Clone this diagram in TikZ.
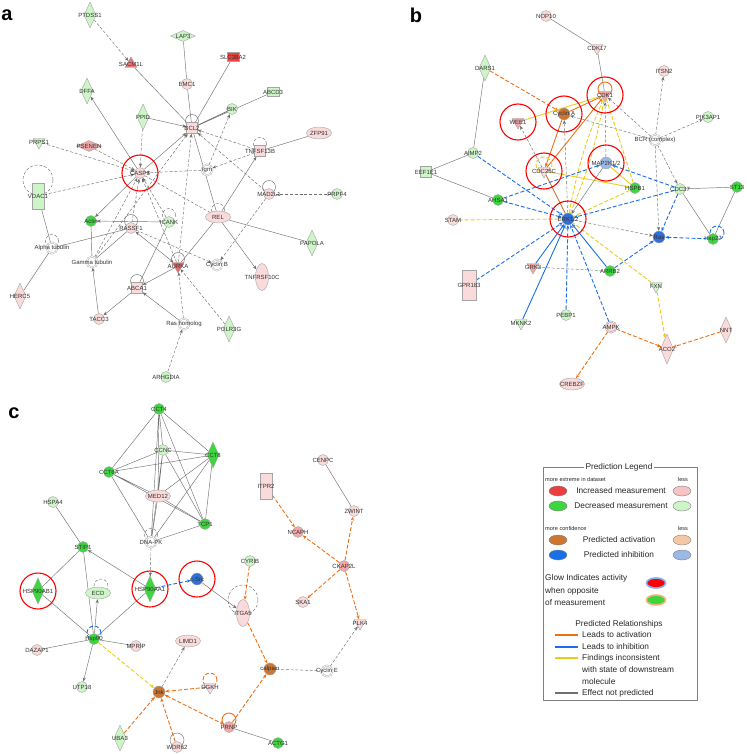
\documentclass[tikz,border=0pt]{standalone}
\usepackage{fontspec}
\setmainfont{Liberation Sans}
\usetikzlibrary{shapes.geometric,arrows.meta,positioning,backgrounds}
\definecolor{pinkL}{RGB}{250,218,218}
\definecolor{pinkM}{RGB}{242,168,168}
\definecolor{redS}{RGB}{236,62,62}
\definecolor{greenL}{RGB}{206,245,200}
\definecolor{greenS}{RGB}{62,214,62}
\definecolor{orangeN}{RGB}{205,118,50}
\definecolor{orangeL}{RGB}{245,200,165}
\definecolor{blueN}{RGB}{48,112,215}
\definecolor{blueL}{RGB}{155,185,230}
\definecolor{nodeline}{RGB}{165,165,165}
\definecolor{edgegray}{RGB}{112,112,112}
\definecolor{labtext}{RGB}{50,50,50}
\definecolor{actorange}{RGB}{238,112,20}
\definecolor{inhblue}{RGB}{25,110,235}
\definecolor{incyellow}{RGB}{236,204,25}

\begin{document}
\begin{tikzpicture}[x=1pt, y=-1pt,
  base/.style={inner sep=0pt, draw=nodeline, line width=0.4pt},
  glab/.style={font=\fontsize{6}{6}\selectfont, text=labtext, inner sep=0pt},
  gene/.style={label={[glab]center:#1}},
  pc/.style={base, circle, fill=pinkL, minimum size=11pt},
  mc/.style={base, circle, fill=pinkM, minimum size=11pt},
  gc/.style={base, circle, fill=greenL, minimum size=11pt},
  Gc/.style={base, circle, fill=greenS, minimum size=11pt},
  oc/.style={base, circle, fill=orangeN, minimum size=12pt},
  bc/.style={base, circle, fill=blueN, minimum size=12pt},
  lbc/.style={base, circle, fill=blueL, minimum size=12pt},
  wc/.style={base, circle, fill=white, minimum size=11pt, double=white, double distance=0.8pt},
  pwc/.style={wc, double=pinkL, fill=pinkL},
  dm/.style={base, diamond, minimum width=12pt, minimum height=26pt},
  pdm/.style={dm, fill=pinkL},
  gdm/.style={dm, fill=greenL},
  Gdm/.style={dm, fill=greenS},
  wdm/.style={base, diamond, minimum width=25pt, minimum height=11pt},
  tri/.style={base, regular polygon, regular polygon sides=3, shape border rotate=180, minimum size=14pt},
  ptri/.style={tri, fill=pinkL},
  mtri/.style={tri, fill=pinkM},
  gtri/.style={tri, fill=greenL},
  sq/.style={base, rectangle, minimum size=11pt},
  tall/.style={base, rectangle, minimum width=12pt, minimum height=26pt},
  ell/.style={base, ellipse, minimum width=25pt, minimum height=12pt},
  vell/.style={base, ellipse, minimum width=13pt, minimum height=27pt},
  trap/.style={base, rectangle, minimum width=12pt, minimum height=9pt},
  hl/.style={circle, draw=red, line width=1.1pt, minimum size=36pt, inner sep=0pt},
  lnk/.style={draw=edgegray, line width=0.45pt},
  lnkd/.style={lnk, dash pattern=on 3pt off 1.8pt},
  act/.style={draw=actorange, line width=0.9pt},
  actd/.style={act, dash pattern=on 4pt off 2pt},
  inh/.style={draw=inhblue, line width=0.9pt},
  inhd/.style={inh, dash pattern=on 4pt off 2pt},
  inc/.style={draw=incyellow, line width=0.9pt},
  incd/.style={inc, dash pattern=on 4pt off 2pt},
  tip/.style={-{Stealth[length=4pt,width=3.2pt]}},
  tips/.style={{Stealth[length=4pt,width=3.2pt]}-{Stealth[length=4pt,width=3.2pt]}},
  panel/.style={font=\fontsize{20}{20}\selectfont\bfseries, inner sep=0pt},
  lgtext/.style={font=\fontsize{8.3}{10}\selectfont, text=black!85, inner sep=0pt},
  lgsmall/.style={font=\fontsize{5.6}{7}\selectfont, text=black!85, inner sep=0pt},
  legell/.style={base, ellipse, minimum width=18pt, minimum height=10pt, draw=gray}]

\useasboundingbox (0,0) rectangle (746,754);

% ---------------- panel a ----------------
\node[panel] (pa) at (7,15) {a};

\node[gdm, gene=PTDSS1] (ptdss1) at (90,15) {};
\node[wdm, fill=greenL, gene=LAP3] (lap3) at (183,36) {};
\node[trap, fill=redS, gene=SLC38A2] (slc38a2) at (233,57) {};
\node[tri, shape border rotate=0, fill={rgb,255:red,240;green,118;blue,118}, gene=SACM1L] (sacm1l) at (131,64) {};
\node[pc, gene=EMC1] (emc1) at (187,84) {};
\node[gdm, gene=DFFA] (dffa) at (87,91) {};
\node[trap, fill=greenL, gene=ABCD3] (abcd3) at (273,92) {};
\node[gc, gene=BIK] (bik) at (232,109) {};
\node[gdm, gene=PPID] (ppid) at (143,117) {};
\node[sq, fill=pinkL, gene=BCL2] (bcl2) at (192,128) {};
\node[ell, fill=pinkL, gene=ZFP91] (zfp91) at (319,133) {};
\node[gtri, gene=PRPS1] (prps1) at (39,142) {};
\node[wdm, fill=pinkM, gene=PSENEN] (psenen) at (89,146) {};
\node[sq, fill=pinkL, gene=TNFSF13B] (tnfsf13b) at (260,151) {};
\node[pc, gene=CASP3] (casp3) at (140,173) {};
\node[wc, gene=Igm] (igm) at (207,170) {};
\node[tall, fill=greenL, gene=VDAC1] (vdac1) at (38,196) {};
\node[pc, gene=MAD2L1] (mad2l1) at (269,194) {};
\node[gc, gene=PRPF4] (prpf4) at (337,194) {};
\node[ell, fill=pinkL, gene=REL] (rel) at (218,217) {};
\node[Gc, gene=Actin] (actin) at (91,221) {};
\node[gc, gene=ICANK] (icank) at (169,222) {};
\node[pc, gene=RASSF1] (rassf1) at (131,228) {};
\node[gdm, gene=PAPOLA] (papola) at (312,243) {};
\node[wc, gene=Alpha tubulin] (alphatub) at (52,248) {};
\node[wc, gene=Gamma tubulin] (gammatub) at (92,262) {};
\node[tri, fill=redS!80, gene=AURKA] (aurka) at (178,266) {};
\node[wc, gene=Cyclin B] (cyclinb) at (217,265) {};
\node[vell, fill=pinkL, gene=TNFRSF10C] (tnfrsf10c) at (262,277) {};
\node[pdm, gene=HERC5] (herc5) at (20,296) {};
\node[sq, fill=pinkL, gene=ABCA1] (abca1) at (137,288) {};
\node[pc, gene=TACC3] (tacc3) at (99,319) {};
\node[wc, gene=Ras homolog] (rashom) at (184,324) {};
\node[gdm, gene=POLR3G] (polr3g) at (229,329) {};
\node[gc, gene=ARHGDIA] (arhgdia) at (166,377) {};

\node[hl] (hlcasp3) at (casp3) {};

\begin{scope}[on background layer]
\draw[lnkd, tip] (ptdss1) -- (sacm1l);
\draw[lnk] (lap3) -- (emc1);
\draw[lnk] (emc1) -- (bcl2);
\draw[lnk] (slc38a2) -- (bcl2);
\draw[lnk] (sacm1l) -- (bcl2);
\draw[lnk] (abcd3) -- (bcl2);
\draw[lnk, line width=0.8pt] (bik) -- (bcl2);
\draw[lnk, tip] (ppid) -- (bcl2);
\draw[lnkd, tip] (ppid) -- (casp3);
\draw[lnk, tip] (casp3) -- (dffa);
\draw[lnk] (zfp91) -- (tnfsf13b);
\draw[lnkd, tip] (tnfsf13b) -- (bcl2);
\draw[lnkd, tip] (prps1) -- (casp3);
\draw[lnkd, tip] (psenen) -- (casp3);
\draw[lnk, tip] (casp3) -- (bcl2);
\draw[lnkd, tip] (igm) -- (casp3);
\draw[lnkd, tip] (igm) -- (bik);
\draw[lnkd, tip] (tnfsf13b) -- (igm);
\draw[lnkd, tip] (vdac1) -- (casp3);
\draw[lnk] (vdac1) -- (alphatub);
\draw[lnk] (herc5) -- (alphatub);
\draw[lnk] (alphatub) -- (rassf1);
\draw[lnk, tip] (casp3) -- (actin);
\draw[lnk, tip] (icank) -- (actin);
\draw[lnk] (actin) -- (gammatub);
\draw[lnkd, tip] (rassf1) -- (casp3);
\draw[lnk] (rassf1) -- (gammatub);
\draw[lnk, tips] (rassf1) -- (aurka);
\draw[lnkd, tip] (rassf1) -- (cyclinb);
\draw[lnkd, tip] (gammatub) -- (casp3);
\draw[lnkd, tip] (gammatub) -- (bcl2);
\draw[lnk, tip] (tacc3) -- (gammatub);
\draw[lnk, tip] (abca1) -- (tacc3);
\draw[lnk] (icank) -- (abca1);
\draw[lnkd, tip] (icank) -- (casp3);
\draw[lnk, tip] (rel) -- (tnfsf13b);
\draw[lnk] (rel) -- (bcl2);
\draw[lnk, tip] (rel) -- (tnfrsf10c);
\draw[lnk] (rel) -- (papola);
\draw[lnk] (rel) -- (aurka);
\draw[lnkd] (casp3) -- (rel);
\draw[lnkd, tip] (mad2l1) -- (cyclinb);
\draw[lnkd] (prpf4) -- (mad2l1);
\draw[lnkd, tip] (mad2l1) -- (bcl2);
\draw[lnkd, tip] (aurka) -- (bcl2);
\draw[lnk, tip] (aurka) -- (abca1);
\draw[lnkd, tip] (aurka) -- (casp3);
\draw[lnk, tip] (rashom) -- (abca1);
\draw[lnkd, tip] (rashom) -- (aurka);
\draw[lnkd, tip] (polr3g) -- (aurka);
\draw[lnkd, tip] (arhgdia) -- (rashom);
% self loops
\draw[lnk] ([yshift=7pt]bcl2.center) circle (6.5pt);
\draw[lnkd] ([yshift=7pt]tnfsf13b.center) circle (6.5pt);
\draw[lnkd] ([yshift=16pt]vdac1.center) circle (15pt);
\draw[lnkd] ([yshift=7pt]alphatub.center) circle (6.5pt);
\draw[lnk] ([yshift=7pt]rassf1.center) circle (6.5pt);
\draw[lnkd] ([yshift=7pt]icank.center) circle (6.5pt);
\draw[lnkd] ([yshift=7pt]rel.center) circle (6.5pt);
\draw[lnk] ([yshift=7pt]mad2l1.center) circle (6.5pt);
\draw[lnk] ([yshift=7pt]aurka.center) circle (6.5pt);
\draw[lnk] ([yshift=7pt]abca1.center) circle (6.5pt);
\end{scope}

% ---------------- panel b ----------------
\node[panel] (pb) at (416,15) {b};

\node[pc, gene=NOP10] (nop10) at (546,16) {};
\node[ptri, gene=CDK17] (cdk17) at (597,48) {};
\node[gdm, gene=DARS1] (dars1) at (485,68) {};
\node[pc, gene=ITSN2] (itsn2) at (664,71) {};
\node[mtri, gene=CDK1] (cdk1) at (605,95) {};
\node[oc, gene=Cyclin A] (cyclina) at (564,114) {};
\node[mtri, gene=WEE1] (wee1) at (518,122) {};
\node[gc, gene=PIK3AP1] (pik3ap1) at (708,117) {};
\node[wc, gene=BCR (complex)] (bcr) at (655,140) {};
\node[gc, gene=AIMP2] (aimp2) at (473,153) {};
\node[lbc, gene=MAP2K1/2] (map2k) at (606,163) {};
\node[ptri, gene=CDC25C] (cdc25c) at (544,171) {};
\node[sq, fill=greenL, gene=EEF1E1] (eef1e1) at (426,172) {};
\node[Gc, gene=HSPB1] (hspb1) at (635,188) {};
\node[gc, gene=CDC37] (cdc37) at (680,189) {};
\node[Gc, gene=ST13] (st13) at (737,187) {};
\node[Gc, gene=AHSA1] (ahsa1) at (498,200) {};
\node[pc, gene=STAM] (stam) at (453,220) {};
\node[bc, gene=ERK1/2] (erk) at (568,219) {};
\node[bc, gene=Ras] (ras) at (659,237) {};
\node[Gc, gene=Hsp27] (hsp27) at (713,239) {};
\node[mtri, gene=GRK3] (grk3) at (533,267) {};
\node[Gc, gene=ARRB2] (arrb2) at (610,271) {};
\node[tall, fill=pinkL, minimum width=14pt, minimum height=30pt, gene=GPR183] (gpr183) at (469,285) {};
\node[gtri, gene=FXN] (fxn) at (656,286) {};
\node[gc, gene=PEBP1] (pebp1) at (566,315) {};
\node[gtri, gene=MKNK2] (mknk2) at (521,323) {};
\node[pwc, gene=AMPK] (ampk) at (611,327) {};
\node[pdm, gene=NNT] (nnt) at (726,330) {};
\node[pdm, minimum height=30pt, minimum width=13pt, gene=ACO2] (aco2) at (667,349) {};
\node[ell, fill=pinkL, gene=CREBZF] (crebzf) at (572,384) {};

\node[hl] (hlcdk1) at (cdk1) {};
\node[hl] (hlcyclina) at (cyclina) {};
\node[hl] (hlwee1) at (wee1) {};
\node[hl] (hlmap2k) at (map2k) {};
\node[hl] (hlcdc25c) at (cdc25c) {};
\node[hl] (hlerk) at (erk) {};

\begin{scope}[on background layer]
\draw[lnk] (nop10) -- (cdk17);
\draw[lnk] (cdk17) -- (cdk1);
\draw[actd, tip] (dars1) -- (cyclina);
\draw[lnk] (dars1) -- (aimp2);
\draw[lnk] (aimp2) -- (eef1e1);
\draw[lnk] (eef1e1) -- (ahsa1);
\draw[inhd, tip] (aimp2) -- (erk);
\draw[act, tip] (cyclina) -- (cdk1);
\draw[inc] (wee1) -- (cdk1);
\draw[act, tip] (cyclina) -- (cdc25c);
\draw[act, tip] (cdc25c) -- (cdk1);
\draw[lnkd, tip] (cdc25c) -- (wee1);
\draw[act, draw=orangeN] (cdc25c) -- (erk);
\draw[lnkd, tip] (bcr) -- (cdk1);
\draw[lnkd, tip] (bcr) -- (cyclina);
\draw[lnkd, tip] (bcr) -- (itsn2);
\draw[lnkd, tip] (bcr) -- (pik3ap1);
\draw[lnkd, tip] (bcr) -- (cdc37);
\draw[lnkd, tip] (bcr) -- (ras);
\draw[lnkd, tip] (map2k) -- (cdk1);
\draw[lnkd, tip] (erk) -- (cyclina);
\draw[incd] (erk) to[bend left=6] (cdk1);
\draw[incd] (erk) to[bend right=6] (cdk1);
\draw[inc] (hspb1) -- (map2k);
\draw[inc] (cdc25c) -- (hspb1);
\draw[incd] (hspb1) -- (erk);
\draw[incd] (hspb1) -- (cdk1);
\draw[inhd, tip] (ahsa1) -- (map2k);
\draw[inhd, tip] (cdc37) -- (map2k);
\draw[inhd, tip] (cdc37) -- (erk);
\draw[inhd, tip] (cdc37) -- (ras);
\draw[lnk] (cdc37) -- (st13);
\draw[lnk] (cdc37) -- (hsp27);
\draw[lnk] (st13) -- (hsp27);
\draw[inhd, tip] (hsp27) -- (ras);
\draw[lnk, tip] (map2k) -- (erk);
\draw[inhd, tip] (ahsa1) -- (erk);
\draw[incd] (stam) -- (erk);
\draw[lnkd, tip] (erk) -- (ras);
\draw[inhd, tip] (gpr183) -- (erk);
\draw[lnkd] (grk3) -- (arrb2);
\draw[inh, tip] (grk3) -- (erk);
\draw[inh, tip] (arrb2) -- (erk);
\draw[inhd, tip] (arrb2) -- (ras);
\draw[inh, tip] (mknk2) -- (erk);
\draw[inhd, tip] (pebp1) -- (erk);
\draw[inhd, tip] (ampk) -- (erk);
\draw[incd] (fxn) -- (erk);
\draw[incd, tip] (fxn) -- (aco2);
\draw[actd, tip] (ampk) -- (aco2);
\draw[actd, tip] (nnt) -- (aco2);
\draw[actd, tip] (ampk) -- (crebzf);
% self loops
\draw[act] ([yshift=6pt]cdk1.center) circle (7pt);
\draw[incd] ([yshift=6pt]cdc25c.center) circle (8pt);
\draw[inhd] ([yshift=6pt,xshift=4pt]hsp27.center) circle (7pt);
\end{scope}

% ---------------- panel c ----------------
\node[panel] (pc) at (14,413) {c};

\node[Gc, gene=CCT4] (cct4) at (159,409) {};
\node[gc, gene=CCNC] (ccnc) at (163,450) {};
\node[Gdm, gene=CCT8] (cct8) at (213,455) {};
\node[Gc, gene=CCT6A] (cct6a) at (109,472) {};
\node[ell, fill=pinkL, gene=MED12] (med12) at (158,496) {};
\node[gc, gene=HSPA4] (hspa4) at (53,502) {};
\node[Gc, gene=TCP1] (tcp1) at (205,524) {};
\node[wc, gene=DNA-PK] (dnapk) at (151,542) {};
\node[Gc, gene=STIP1] (stip1) at (83,547) {};
\node[Gdm, gene=HSP90AB1] (hsp90ab1) at (38,591) {};
\node[ell, fill=greenL, gene=ECD] (ecd) at (98,593) {};
\node[Gdm, gene=HSP90AA1] (hsp90aa1) at (150,589) {};
\node[bc, gene=c-Src] (csrc) at (197,579) {};
\node[gc, gene=CYRIB] (cyrib) at (250,561) {};
\node[vell, fill=pinkL, gene=ITGA5] (itga5) at (243,613) {};
\node[Gc, gene=Hsp90] (hsp90) at (94,639) {};
\node[pc, gene=DAZAP1] (dazap1) at (37,650) {};
\node[pc, gene=MPRIP] (mprip) at (136,646) {};
\node[ell, fill=pinkL, gene=LIMD1] (limd1) at (188,641) {};
\node[gc, gene=UTP18] (utp18) at (82,687) {};
\node[oc, gene=Jnk] (jnk) at (159,692) {};
\node[ptri, gene=DGKH] (dgkh) at (210,687) {};
\node[mc, gene=PRNP] (prnp) at (229,727) {};
\node[gdm, gene=UBA3] (uba3) at (120,738) {};
\node[pc, gene=WDR62] (wdr62) at (177,747) {};
\node[pc, gene=CENPC] (cenpc) at (323,460) {};
\node[tall, fill=pinkL, gene=ITPR2] (itpr2) at (266,486) {};
\node[pc, gene=ZWINT] (zwint) at (354,511) {};
\node[mc, gene=NCAPH] (ncaph) at (298,532) {};
\node[mc, gene=CKAP2L] (ckap2l) at (344,566) {};
\node[pc, gene=SKA1] (ska1) at (303,602) {};
\node[ptri, gene=PLK4] (plk4) at (360,623) {};
\node[oc, gene=calpain] (calpain) at (270,669) {};
\node[wc, gene=Cyclin E] (cycline) at (327,671) {};
\node[Gc, gene=ACTG1] (actg1) at (278,743) {};

\node[hl] (hlhsp90ab1) at (hsp90ab1) {};
\node[hl] (hlhsp90aa1) at (hsp90aa1) {};
\node[hl] (hlcsrc) at (csrc) {};

\begin{scope}[on background layer]
\draw[lnk] (cct4) -- (ccnc) (cct4) -- (cct8) (cct4) -- (cct6a) (cct4) -- (med12) (cct4) -- (tcp1) (cct4) -- (dnapk);
\draw[lnk] (ccnc) -- (cct8) (ccnc) -- (cct6a) (ccnc) -- (med12) (ccnc) -- (tcp1) (ccnc) -- (dnapk);
\draw[lnk] (cct8) -- (cct6a) (cct8) -- (med12) (cct8) -- (tcp1) (cct8) -- (dnapk);
\draw[lnk] (cct6a) -- (med12) (cct6a) -- (tcp1) (cct6a) -- (dnapk);
\draw[lnk] (med12) -- (tcp1) (med12) -- (dnapk) (tcp1) -- (dnapk);
\draw[lnkd, tip] (dnapk) -- (hsp90aa1);
\draw[lnk] (hspa4) -- (stip1);
\draw[lnk] (stip1) -- (hsp90ab1);
\draw[lnk] (stip1) -- (hsp90);
\draw[lnk, tip] (hsp90aa1) -- (stip1);
\draw[lnk] (hsp90ab1) -- (hsp90);
\draw[lnk] (hsp90aa1) -- (hsp90);
\draw[lnk, tip] (hsp90) -- (ecd);
\draw[inhd, tip] (hsp90aa1) -- (csrc);
\draw[lnk, tip] (csrc) -- (itga5);
\draw[actd, tip] (cyrib) -- (itga5);
\draw[actd, tip] (itga5) -- (calpain);
\draw[lnk] (hsp90) -- (dazap1);
\draw[lnk] (hsp90) -- (mprip);
\draw[lnk, tip] (hsp90) -- (utp18);
\draw[incd, tip] (hsp90) -- (jnk);
\draw[lnkd, tip] (jnk) -- (limd1);
\draw[actd, tip] (dgkh) -- (jnk);
\draw[actd, tip] (uba3) -- (jnk);
\draw[actd, tip] (wdr62) -- (jnk);
\draw[actd, tips] (jnk) -- (prnp);
\draw[actd, tip] (prnp) -- (calpain);
\draw[lnk] (prnp) -- (actg1);
\draw[lnkd] (calpain) -- (cycline);
\draw[lnkd, tip] (cycline) -- (plk4);
\draw[actd, tip] (itpr2) -- (ncaph);
\draw[actd, tip] (ckap2l) -- (ncaph);
\draw[actd, tip] (ckap2l) -- (zwint);
\draw[actd, tip] (ckap2l) -- (ska1);
\draw[actd, tip] (ckap2l) -- (plk4);
\draw[lnk] (cenpc) -- (zwint);
% self loops
\draw[lnkd] ([yshift=7pt]dnapk.center) circle (6.5pt);
\draw[lnkd] ([yshift=7pt,xshift=3pt]ecd.center) circle (7pt);
\draw[inhd] ([yshift=6pt]hsp90.center) circle (7pt);
\draw[actd] ([yshift=7pt]dgkh.center) circle (7pt);
\draw[act] ([yshift=7pt]prnp.center) circle (7pt);
\draw[lnk] ([yshift=7pt]wdr62.center) circle (7pt);
\draw[lnkd] ([yshift=13pt]itga5.center) circle (15pt);
\end{scope}

% ---------------- legend ----------------
\draw[gray, line width=0.5pt] (543,467) rectangle (697,700);
\node[lgtext, fill=white, inner xsep=2pt] (lgtitle) at (619,467) {Prediction Legend};
\node[lgsmall, anchor=west] (lgext) at (545,479) {more extreme in dataset};
\node[lgsmall] (lgless1) at (683,479) {less};
\node[legell, fill=redS] (lgred) at (558,491) {};
\node[lgtext] (lginc) at (621,491) {Increased measurement};
\node[legell, fill=pinkM!70] (lgpink) at (682,491) {};
\node[legell, fill=greenS] (lggreen) at (558,506) {};
\node[lgtext] (lgdec) at (621,506) {Decreased measurement};
\node[legell, fill=greenL] (lglgreen) at (682,506) {};
\node[lgsmall, anchor=west] (lgconf) at (545,528) {more confidence};
\node[lgsmall] (lgless2) at (683,528) {less};
\node[legell, fill=orangeN] (lgorange) at (558,540) {};
\node[lgtext] (lgpact) at (619,540) {Predicted activation};
\node[legell, fill=orangeL] (lglorange) at (682,540) {};
\node[legell, fill=inhblue] (lgblue) at (558,555) {};
\node[lgtext] (lgpinh) at (619,555) {Predicted inhibition};
\node[legell, fill=blueL] (lglblue) at (682,555) {};
\node[lgtext, anchor=west] (lgglow1) at (545,578) {Glow Indicates activity};
\node[lgtext, anchor=west] (lgglow2) at (545,591) {when opposite};
\node[lgtext, anchor=west] (lgglow3) at (545,603) {of measurement};
\node[legell, fill=red, draw=inhblue!55, line width=1.6pt, minimum width=19pt] (lgglowr) at (656,583) {};
\node[legell, fill=greenS, draw=actorange!55, line width=1.6pt, minimum width=19pt] (lgglowg) at (656,600) {};
\node[lgtext] (lgrel) at (619,624) {Predicted Relationships};
\draw[actorange, line width=1.4pt] (555,635) -- (578,635);
\node[lgtext, anchor=west] (lgact) at (582,635) {Leads to activation};
\draw[inhblue, line width=1.4pt] (555,647) -- (578,647);
\node[lgtext, anchor=west] (lginh) at (582,647) {Leads to inhibition};
\draw[incyellow, line width=1.4pt] (555,658) -- (578,658);
\node[lgtext, anchor=west] (lgfi1) at (582,658) {Findings inconsistent};
\node[lgtext, anchor=west] (lgfi2) at (582,670) {with state of downstream};
\node[lgtext, anchor=west] (lgfi3) at (582,682) {molecule};
\draw[edgegray, line width=1.4pt] (555,693) -- (578,693);
\node[lgtext, anchor=west] (lgnp) at (582,693) {Effect not predicted};

\end{tikzpicture}
\end{document}
